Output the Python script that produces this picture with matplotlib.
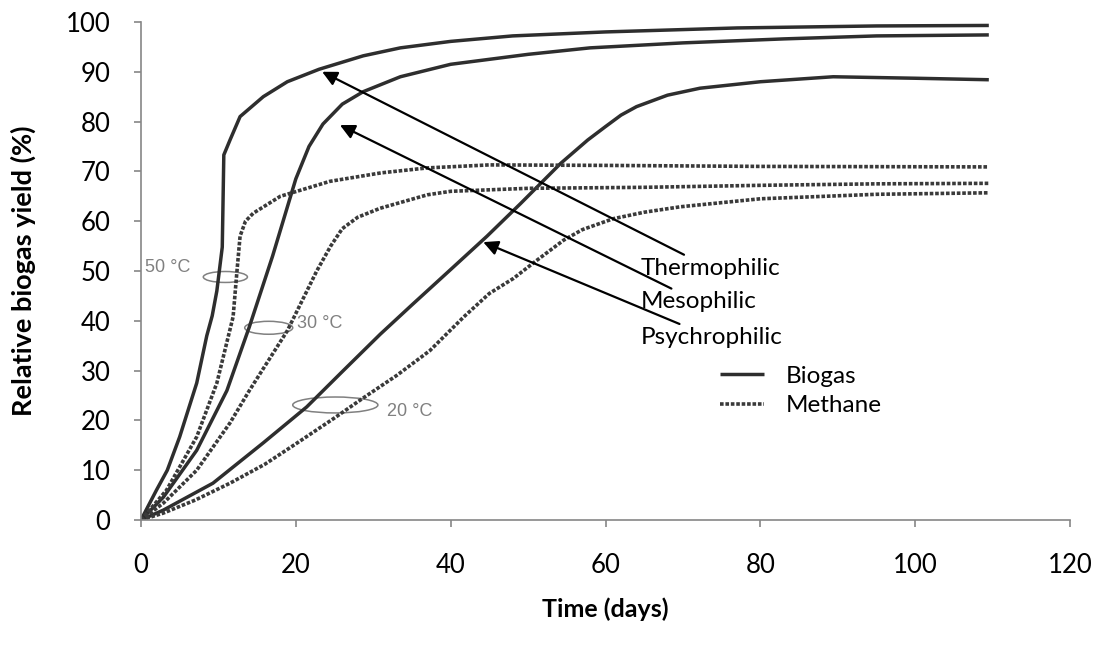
import matplotlib.pyplot as plt
from matplotlib.lines import Line2D
from matplotlib.patches import Ellipse

# Relative yield curves (days, %)
thermo_biogas_t = [0, 2, 3.4, 5, 7.2, 8.5, 9.2, 9.8, 10.5, 10.6, 10.7, 11.5, 12.8, 15.8, 18.9, 23,
                   28.7, 33.5, 40, 48, 60, 77, 95, 109.5]
thermo_biogas_y = [0, 6, 10, 16.7, 27.5, 37, 41, 46, 54.8, 64, 73.3, 76.3, 81, 85, 88, 90.5,
                   93.2, 94.8, 96.1, 97.2, 98, 98.8, 99.2, 99.3]

meso_biogas_t = [0, 2.9, 7.2, 11.1, 14, 17, 20, 21.7, 23.5, 26, 28.7, 33.5, 40, 50, 58, 70, 83, 95, 109.5]
meso_biogas_y = [0, 4.6, 14, 26, 38.8, 53, 68.5, 75, 79.5, 83.5, 86, 89, 91.5, 93.5, 94.8, 95.8, 96.6,
                 97.2, 97.4]

psychro_biogas_t = [0, 2.9, 9.3, 15.8, 21.4, 26, 30.9, 35, 40, 44.7, 49, 54.2, 57.7, 60, 62, 64, 68,
                    72.2, 80, 89.4, 100, 109.5]
psychro_biogas_y = [0, 2, 7.4, 15.5, 22.7, 29.8, 37.3, 43.2, 50.3, 57, 63.5, 71.6, 76.3, 79, 81.3, 83,
                    85.3, 86.7, 88, 89, 88.7, 88.4]

thermo_methane_t = [0, 3.3, 7.2, 9.8, 11.9, 12.4, 12.8, 13.5, 14.5, 18, 24.4, 31, 37, 45, 60, 80, 109.5]
thermo_methane_y = [0, 6, 16.7, 27.5, 40.8, 50, 57, 60, 61.6, 65, 68, 69.7, 70.7, 71.3, 71.2, 71, 70.9]

meso_methane_t = [0, 2.9, 7.2, 11.5, 14, 18.9, 22.7, 24.5, 26, 28, 30.9, 37, 40, 50, 65, 80, 95, 109.5]
meso_methane_y = [0, 3.4, 10, 19.5, 26, 38, 50, 55, 58.5, 60.8, 62.6, 65.3, 66, 66.6, 66.8, 67.2, 67.5, 67.6]

psychro_methane_t = [0, 2.9, 7, 11.5, 16, 20.1, 25, 28.7, 33, 37.3, 41.7, 45, 48.1, 51, 54.6, 57, 61,
                     65, 69.7, 80, 95, 109.5]
psychro_methane_y = [0, 1.4, 4, 7.4, 11.2, 15.4, 20.5, 24.5, 29, 34, 40.8, 45.5, 48.5, 52, 56.2, 58.3,
                     60.5, 61.8, 62.9, 64.5, 65.4, 65.7]

# arrow labels: text, arrow tip, text anchor
labels = ['Thermophilic', 'Mesophilic', 'Psychrophilic']
tips = [(23.4, 90.0), (25.7, 79.3), (44.2, 55.8)]
anchors = [(64.5, 50.6), (64.5, 43.8), (64.5, 36.7)]

# temperature rings: label, label position, ring centre, ring size
temps = ['50 °C', '30 °C', '20 °C']
temp_text = [(0.5, 50.8), (20.2, 39.4), (31.8, 21.8)]
ring_xy = [(10.9, 48.8), (16.5, 38.6), (25.1, 23.1)]
ring_wh = [(5.7, 2.2), (6.2, 2.6), (11.0, 3.2)]

plt.rcParams['font.family'] = ['Lato', 'DejaVu Sans']

fig = plt.figure(figsize=(10.97, 6.46), dpi=100)
ax = fig.add_axes([0.1285, 0.195, 0.847, 0.771])

solid = dict(color='#2e2e2e', lw=2.5, solid_capstyle='butt')
dotted = dict(color='#3a3a3a', lw=2.6, linestyle=(0, (1.0, 0.5)))
ax.plot(thermo_biogas_t, thermo_biogas_y, **solid)
ax.plot(meso_biogas_t, meso_biogas_y, **solid)
ax.plot(psychro_biogas_t, psychro_biogas_y, **solid)
ax.plot(thermo_methane_t, thermo_methane_y, **dotted)
ax.plot(meso_methane_t, meso_methane_y, **dotted)
ax.plot(psychro_methane_t, psychro_methane_y, **dotted)

for lab, tip, anc in zip(labels, tips, anchors):
    ax.annotate(lab, xy=tip, xytext=anc, fontsize=17.5, va='center', ha='left',
                arrowprops=dict(arrowstyle='-|>', color='black', lw=1.6,
                                mutation_scale=22, shrinkA=0, shrinkB=0))

for lab, pos, c, wh in zip(temps, temp_text, ring_xy, ring_wh):
    ax.text(pos[0], pos[1], lab, fontsize=13, color='#808080',
            family='Liberation Sans', va='center', ha='left')
    ax.add_patch(Ellipse(c, wh[0], wh[1], fill=False, ec='#808080', lw=1.1))

handles = [Line2D([], [], **solid), Line2D([], [], **dotted)]
ax.legend(handles, ['Biogas', 'Methane'], loc='upper left', bbox_to_anchor=(0.623, 0.31),
          frameon=False, fontsize=17.5, handlelength=1.8, handletextpad=0.9,
          labelspacing=0.35, borderpad=0, borderaxespad=0)

ax.set_xlim(0, 120)
ax.set_ylim(0, 100)
ax.set_xticks(range(0, 121, 20))
ax.set_yticks(range(0, 101, 10))
for s in ['top', 'right']:
    ax.spines[s].set_visible(False)
for s in ['left', 'bottom']:
    ax.spines[s].set_color('#868686')
    ax.spines[s].set_linewidth(1.2)
ax.tick_params(axis='both', direction='out', length=5, width=1.2, color='#868686', labelsize=18.5)
ax.tick_params(axis='y', pad=17)
ax.tick_params(axis='x', pad=19)
ax.set_xlabel('Time (days)', fontsize=18, fontweight='bold', labelpad=14)
ax.set_ylabel('Relative biogas yield (%)', fontsize=19.5, fontweight='bold', labelpad=21)

fig.savefig('out.png', dpi=100)
